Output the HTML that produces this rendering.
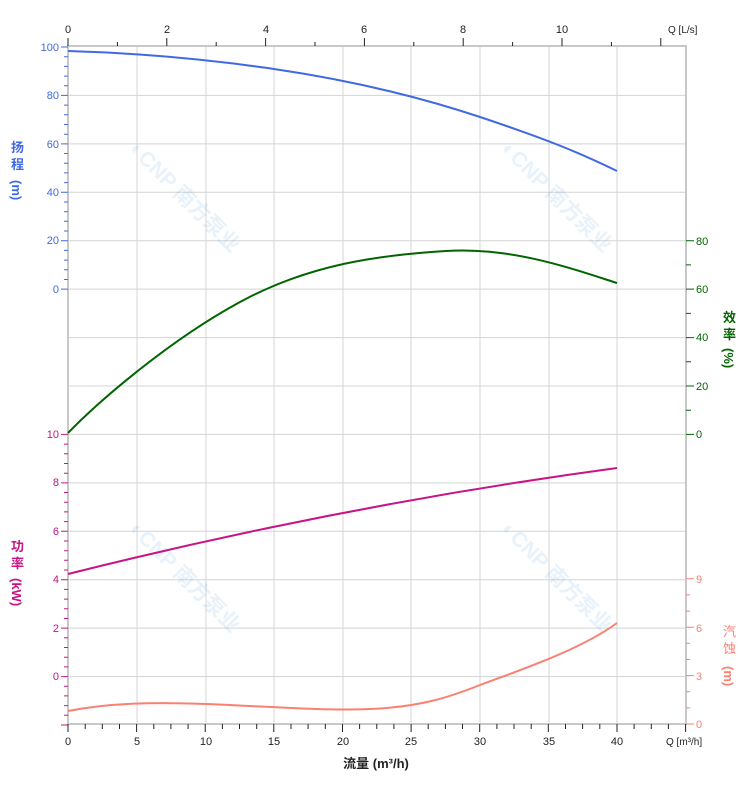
<!DOCTYPE html>
<html><head><meta charset="utf-8"><style>body{margin:0;background:#fff}svg{display:block}text{font-family:"Liberation Sans","Noto Sans CJK SC",sans-serif}</style></head>
<body>
<svg width="752" height="797" viewBox="0 0 752 797" xmlns="http://www.w3.org/2000/svg">
<g stroke="#d4d4d4" stroke-width="1">
<path d="M137,47V724M206,47V724M274,47V724M343,47V724M411,47V724M480,47V724M549,47V724M617,47V724"/>
<path d="M68,95.4H686M68,143.9H686M68,192.3H686M68,240.7H686M68,289.1H686M68,337.6H686M68,386H686M68,434.4H686M68,482.9H686M68,531.3H686M68,579.7H686M68,628.1H686M68,676.6H686"/>
</g>
<g opacity="0.12" fill="#3a8fd8" font-weight="bold" font-size="21">
<text transform="translate(128,150) rotate(45)">◐CNP 南方泵业</text>
<text transform="translate(500,150) rotate(45)">◐CNP 南方泵业</text>
<text transform="translate(128,530) rotate(45)">◐CNP 南方泵业</text>
<text transform="translate(500,530) rotate(45)">◐CNP 南方泵业</text>
</g>
<g stroke="#c8c8c8" stroke-width="2" fill="none"><path d="M67,46H687M68,46V725M67,724H687M686,46V725"/></g>
<g stroke="#4169e1" stroke-width="1">
<path d="M61,47H68M61,95.4H68M61,143.9H68M61,192.3H68M61,240.7H68M61,289.1H68"/>
<path d="M64,56.7H68M64,66.4H68M64,76.1H68M64,85.7H68M64,105.1H68M64,114.8H68M64,124.5H68M64,134.2H68M64,153.5H68M64,163.2H68M64,172.9H68M64,182.6H68M64,202H68M64,211.7H68M64,221.3H68M64,231H68M64,250.4H68M64,260.1H68M64,269.8H68M64,279.5H68"/>
</g>
<g stroke="#c71585" stroke-width="1">
<path d="M61,434.4H68M61,482.9H68M61,531.3H68M61,579.7H68M61,628.1H68M61,676.6H68M61,725H68"/>
<path d="M64,444.1H68M64,453.8H68M64,463.5H68M64,473.2H68M64,492.5H68M64,502.2H68M64,511.9H68M64,521.6H68M64,541H68M64,550.7H68M64,560.3H68M64,570H68M64,589.4H68M64,599.1H68M64,608.8H68M64,618.5H68M64,637.8H68M64,647.5H68M64,657.2H68M64,666.9H68M64,686.3H68M64,695.9H68M64,705.6H68M64,715.3H68"/>
</g>
<g stroke="#006400" stroke-width="1">
<path d="M686,240.7H694M686,289.1H694M686,337.6H694M686,386H694M686,434.4H694M686,264.9H691M686,313.4H691M686,361.8H691M686,410.2H691"/>
</g>
<g stroke="#fa8072" stroke-width="1">
<path d="M686,724H694M686,675.6H694M686,627.2H694M686,578.8H694M686,707.9H690M686,691.7H690M686,659.5H690M686,643.3H690M686,611.1H690M686,594.9H690"/>
</g>
<g stroke="#222" stroke-width="1">
<path d="M68,724V732M136.6,724V732M205.2,724V732M273.8,724V732M342.5,724V732M411.1,724V732M479.7,724V732M548.3,724V732M617,724V732M685.6,724V732"/>
<path d="M85.2,724V729M102.3,724V729M119.5,724V729M153.8,724V729M170.9,724V729M188.1,724V729M222.4,724V729M239.5,724V729M256.7,724V729M291,724V729M308.1,724V729M325.3,724V729M359.6,724V729M376.8,724V729M393.9,724V729M428.2,724V729M445.4,724V729M462.5,724V729M496.9,724V729M514,724V729M531.2,724V729M565.5,724V729M582.6,724V729M599.8,724V729M634.1,724V729M651.3,724V729M668.4,724V729"/>
<path d="M68,46V38M166.8,46V38M265.6,46V38M364.4,46V38M463.2,46V38M562,46V38M660.8,46V38M117.4,46V42M216.2,46V42M315,46V42M413.8,46V42M512.6,46V42M611.4,46V42"/>
</g>
<g fill="none" stroke-width="2">
<path stroke="#4169e1" d="M68,51C137,53 206,59 274,69S411,94 480,117S580,153 617,171"/>
<path stroke="#006400" d="M68,433C100,400 170,340 240,302S380,255 446,251S570,268 617,283"/>
<path stroke="#c71585" d="M68,574Q343,505 617,468"/>
<path stroke="#fa8072" d="M68,711C110,703 150,702 206,704S320,711 370,709C420,707 450,697 480,685C520,670 580,650 617,623"/>
</g>
<g font-size="11" fill="#4169e1" text-anchor="end">
<text x="59" y="51">100</text><text x="59" y="99">80</text><text x="59" y="148">60</text><text x="59" y="196">40</text><text x="59" y="244">20</text><text x="59" y="293">0</text></g>
<g font-size="11" fill="#c71585" text-anchor="end">
<text x="59" y="438">10</text><text x="59" y="486">8</text><text x="59" y="535">6</text><text x="59" y="583">4</text><text x="59" y="632">2</text><text x="59" y="680">0</text></g>
<g font-size="11" fill="#006400"><text x="696" y="245">80</text><text x="696" y="293">60</text><text x="696" y="341">40</text><text x="696" y="390">20</text><text x="696" y="438">0</text></g>
<g font-size="11" fill="#fa8072"><text x="696" y="583">9</text><text x="696" y="632">6</text><text x="696" y="680">3</text><text x="696" y="728">0</text></g>
<g font-size="11" fill="#222" text-anchor="middle">
<text x="68" y="745">0</text><text x="137" y="745">5</text><text x="206" y="745">10</text><text x="274" y="745">15</text><text x="343" y="745">20</text><text x="411" y="745">25</text><text x="480" y="745">30</text><text x="549" y="745">35</text><text x="617" y="745">40</text>
<text x="68" y="33">0</text><text x="167" y="33">2</text><text x="266" y="33">4</text><text x="364" y="33">6</text><text x="463" y="33">8</text><text x="562" y="33">10</text></g>
<text x="666" y="745" font-size="10" fill="#222">Q [m³/h]</text>
<text x="668" y="33" font-size="10" fill="#222">Q [L/s]</text>
<text x="376" y="768" font-size="13" font-weight="bold" fill="#222" text-anchor="middle">流量 (m³/h)</text>
<g font-size="13" font-weight="bold">
<text x="11" y="152" fill="#4169e1">扬</text><text x="11" y="169" fill="#4169e1">程</text>
<text transform="translate(12,180) rotate(90)" fill="#4169e1">(m)</text>
<text x="11" y="551" fill="#c71585">功</text><text x="11" y="568" fill="#c71585">率</text>
<text transform="translate(12,578) rotate(90)" fill="#c71585">(kW)</text>
<text x="723" y="322" fill="#006400">效</text><text x="723" y="339" fill="#006400">率</text>
<text transform="translate(724,348) rotate(90)" fill="#006400">(%)</text>
<text x="723" y="636" fill="#fa8072" font-weight="normal">汽</text><text x="723" y="653" fill="#fa8072" font-weight="normal">蚀</text>
<text transform="translate(724,666) rotate(90)" fill="#fa8072">(m)</text>
</g>
</svg>
</body></html>
